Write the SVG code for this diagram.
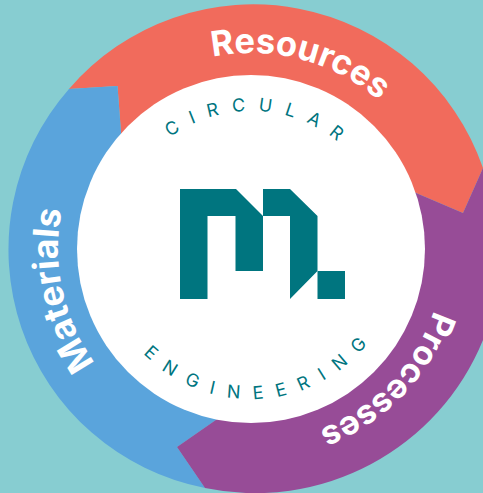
<svg xmlns="http://www.w3.org/2000/svg" width="483" height="493" viewBox="0 0 483 493">
<style>
.band{font:700 33.500px Inter,"Liberation Sans",sans-serif;fill:#fff}
.ring{font:400 18px Inter,"Liberation Sans",sans-serif;fill:#00757f}
.logo{fill:#00757f}
</style>
<defs>
<path id="cw" d="M251,445 A196,196 0 1 1 251,53 A196,196 0 1 1 251,445"/>
<path id="cwp" d="M251,442 A193,193 0 1 1 251,56 A193,193 0 1 1 251,442"/>
<path id="top" d="M251,387 A138,138 0 1 1 251,111 A138,138 0 1 1 251,387"/>
<path id="bot" d="M251,99 A150,150 0 1 0 251,399 A150,150 0 1 0 251,99"/>
</defs>
<rect width="483" height="493" fill="#87cdd1"/>
<g id="resources">
<path fill="#f16b5c" d="M69,89 A243,243 0 0 1 483,168 L463,213 L409,190 A166,166 0 0 0 121.500,139 L117.500,86 Z"/>
<text class="band" style="font-size:34.500px"><textPath href="#cw" startOffset="54.100%" text-anchor="middle">Resources</textPath></text>
</g>
<g id="materials">
<path fill="#5aa4dc" d="M69,89 L117.500,86 L121.500,139 A166,166 0 0 0 223,415 L177,447 L205,488 A243,243 0 0 1 69,89 Z"/>
<text class="band" style="font-size:35.500px"><textPath href="#cwp" startOffset="21.600%" text-anchor="middle">Materials</textPath></text>
</g>
<g id="processes">
<path fill="#974c97" d="M483,168 L463,213 L409,190 A166,166 0 0 1 223,415 L177,447 L205,488 A246,246 0 0 0 483,340 Z"/>
<text class="band"><textPath href="#cwp" startOffset="87.200%" text-anchor="middle">Processes</textPath></text>
</g>
<g id="centre">
<circle cx="251" cy="249" r="174" fill="#fff"/>
<text class="ring" letter-spacing="12.800"><textPath href="#top" startOffset="51.100%" text-anchor="middle">CIRCULAR</textPath></text>
<text class="ring" letter-spacing="13.200"><textPath href="#bot" startOffset="51.400%" text-anchor="middle">ENGINEERING</textPath></text>
</g>
<g id="logo" class="logo">
<path d="M180,189 H236 L263,216 V271 H235.500 V216 H207.500 V299 H180 Z"/>
<path d="M263,189 H290 L317.500,216 V271 L290,299 V216 H263 Z"/>
<rect x="317.500" y="271" width="27.500" height="28"/>
</g>
<g id="connectors"/>
</svg>
